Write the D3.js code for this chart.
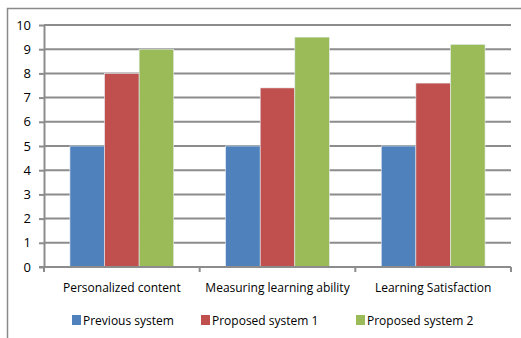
<!DOCTYPE html>
<html>
<head>
<meta charset="utf-8">
<script src="https://cdn.jsdelivr.net/npm/d3@7"></script>
<style>
  body { margin: 0; background: #fff; }
  svg text { font-family: "Open Sans", "Noto Sans", sans-serif; fill: #000; }
</style>
</head>
<body>
<div id="chart"></div>
<script>
// data
var categories = ["Personalized content", "Measuring learning ability", "Learning Satisfaction"];
var seriesNames = ["Previous system", "Proposed system 1", "Proposed system 2"];
var seriesColors = ["#4F81BD", "#C0504D", "#9BBB59"];
var previousSystem = [5, 5, 5];
var proposedSystem1 = [8, 7.4, 7.6];
var proposedSystem2 = [9, 9.5, 9.2];
var yTicks = [0, 1, 2, 3, 4, 5, 6, 7, 8, 9, 10];

var seriesValues = [previousSystem, proposedSystem1, proposedSystem2];

var W = 521, H = 338;
var margin = { top: 25, right: 10, bottom: 71, left: 44 },
  width = 511 - margin.left,
  height = 267 - margin.top;

var root = d3.select("#chart")
  .append("svg")
  .attr("width", W)
  .attr("height", H);

// outer chart border (runs off the right and bottom edges)
root.append("rect")
  .attr("x", 7.5)
  .attr("y", 8.5)
  .attr("width", 540)
  .attr("height", 360)
  .attr("fill", "none")
  .attr("stroke", "#8a8a8a")
  .attr("stroke-width", 1.5);

var svg = root.append("g")
  .attr("transform", "translate(" + margin.left + "," + margin.top + ")");

// scales
var x0 = d3.scaleBand()
  .domain(categories)
  .range([0, width])
  .paddingInner(0)
  .paddingOuter(0);

// gap width 150% -> 0.75 of a bar on each side
var x1 = d3.scaleBand()
  .domain(seriesNames)
  .range([0, x0.bandwidth()])
  .paddingInner(0)
  .paddingOuter(0.75);

var y = d3.scaleLinear()
  .domain([0, 10])
  .range([height, 0]);

// gridlines
svg.selectAll("line.grid")
  .data(yTicks.filter(function (d) { return d > 0; }))
  .enter()
  .append("line")
  .attr("class", "grid")
  .attr("x1", 0)
  .attr("x2", width)
  .attr("y1", function (d) { return y(d); })
  .attr("y2", function (d) { return y(d); })
  .attr("stroke", "#8c8c8c")
  .attr("stroke-width", 2);

// bars
var groups = svg.selectAll("g.cat")
  .data(categories)
  .enter()
  .append("g")
  .attr("class", "cat")
  .attr("transform", function (d) { return "translate(" + x0(d) + ",0)"; });

groups.selectAll("rect")
  .data(function (d, i) {
    return seriesNames.map(function (s, j) {
      return { series: s, value: seriesValues[j][i], color: seriesColors[j] };
    });
  })
  .enter()
  .append("rect")
  .attr("x", function (d) { return x1(d.series); })
  .attr("y", function (d) { return y(d.value); })
  .attr("width", x1.bandwidth())
  .attr("height", function (d) { return height - y(d.value); })
  .attr("fill", function (d) { return d.color; })
  .attr("stroke", "#e8eef6")
  .attr("stroke-width", 0.6);

// y axis
var yAxis = svg.append("g")
  .call(d3.axisLeft(y).tickValues(yTicks).tickSize(5).tickSizeOuter(0).tickPadding(8));
yAxis.select(".domain").attr("stroke", "#8c8c8c").attr("stroke-width", 2);
yAxis.selectAll(".tick line").attr("stroke", "#8c8c8c").attr("stroke-width", 2);
yAxis.selectAll(".tick text")
  .attr("font-size", "13px")
  .style("font-family", "'Open Sans', sans-serif");

// x axis
var xAxisG = svg.append("g")
  .attr("transform", "translate(0," + height + ")");
xAxisG.append("line")
  .attr("x1", -5).attr("x2", width)
  .attr("y1", 0).attr("y2", 0)
  .attr("stroke", "#8c8c8c")
  .attr("stroke-width", 2);
var boundaries = [0].concat(categories.map(function (c) { return x0(c) + x0.bandwidth(); }));
xAxisG.selectAll("line.tk")
  .data(boundaries)
  .enter()
  .append("line")
  .attr("class", "tk")
  .attr("x1", function (d) { return d; })
  .attr("x2", function (d) { return d; })
  .attr("y1", 0)
  .attr("y2", 5)
  .attr("stroke", "#8c8c8c")
  .attr("stroke-width", 2);
xAxisG.selectAll("text.cat")
  .data(categories)
  .enter()
  .append("text")
  .attr("class", "cat")
  .attr("x", function (d) { return x0(d) + x0.bandwidth() / 2; })
  .attr("y", 25)
  .attr("text-anchor", "middle")
  .attr("font-size", "12px")
  .text(function (d) { return d; });

// legend
var legendItems = [
  { name: seriesNames[0], color: seriesColors[0], x: 72 },
  { name: seriesNames[1], color: seriesColors[1], x: 201 },
  { name: seriesNames[2], color: seriesColors[2], x: 356 }
];
var legend = root.selectAll("g.legend")
  .data(legendItems)
  .enter()
  .append("g")
  .attr("class", "legend")
  .attr("transform", function (d) { return "translate(" + d.x + ",315)"; });
legend.append("rect")
  .attr("width", 9)
  .attr("height", 10)
  .attr("fill", function (d) { return d.color; });
legend.append("text")
  .attr("x", 11)
  .attr("y", 9.5)
  .attr("font-size", "12px")
  .text(function (d) { return d.name; });
</script>
</body>
</html>
